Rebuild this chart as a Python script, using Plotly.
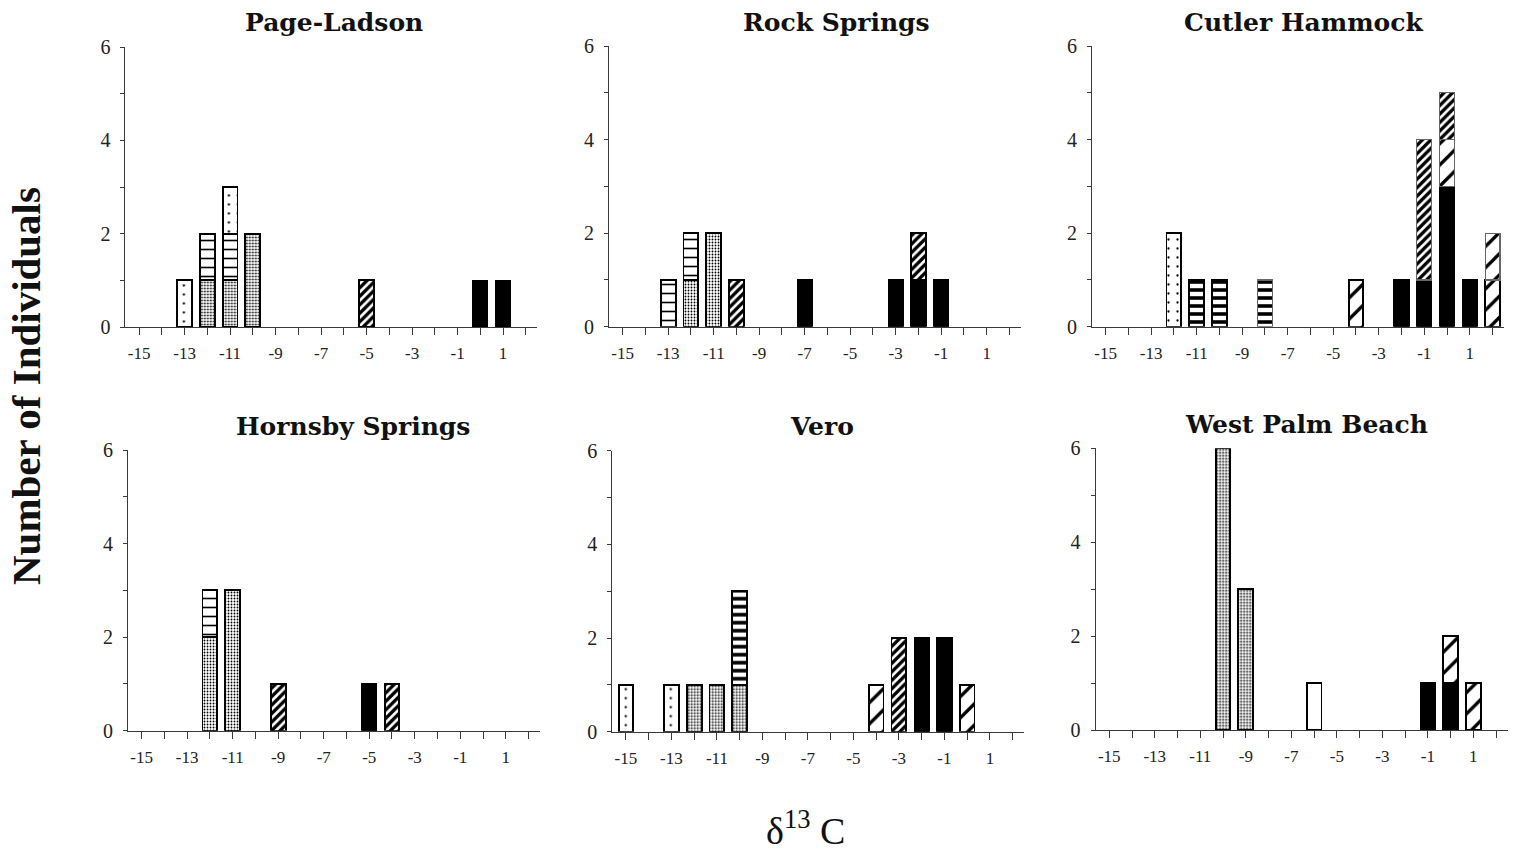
import plotly.graph_objects as go

W, H = 1515, 855

# ---------------- data: counts of individuals per delta-13C bin ----------------
PANEL_TITLES = ["Page-Ladson", "Rock Springs", "Cutler Hammock",
                "Hornsby Springs", "Vero", "West Palm Beach"]

# category -> (bins, counts)
PAGE_LADSON = {
    "black": ([0, 1], [1, 1]),
    "stipple": ([-12, -11, -10], [1, 1, 2]),
    "dense": ([-5], [1]),
    "horiz": ([-12, -11], [1, 1]),
    "sparse": ([-13, -11], [1, 1]),
}
ROCK_SPRINGS = {
    "black": ([-7, -3, -2, -1], [1, 1, 1, 1]),
    "stipple": ([-12, -11], [1, 2]),
    "dense": ([-10, -2], [1, 1]),
    "horiz": ([-13, -12], [1, 1]),
}
CUTLER_HAMMOCK = {
    "black": ([-2, -1, 0, 1], [1, 1, 3, 1]),
    "wide": ([-4, 2], [1, 1]),
    "wide_dotted": ([0, 2], [1, 1]),
    "dense_dotted": ([-1, 0], [3, 1]),
    "horiz_bold": ([-11, -10], [1, 1]),
    "horiz_bold_dotted": ([-8], [1]),
    "sparse": ([-12], [2]),
}
HORNSBY_SPRINGS = {
    "black": ([-5], [1]),
    "stipple": ([-12, -11], [2, 3]),
    "dense": ([-9, -4], [1, 1]),
    "horiz": ([-12], [1]),
}
VERO = {
    "black": ([-2, -1], [2, 2]),
    "stipple": ([-12, -11, -10], [1, 1, 1]),
    "wide": ([-4, 0], [1, 1]),
    "dense": ([-3], [2]),
    "horiz_bold": ([-10], [2]),
    "sparse": ([-15, -13], [1, 1]),
}
WEST_PALM_BEACH = {
    "black": ([-1, 0], [1, 1]),
    "stipple": ([-10, -9], [6, 3]),
    "wide": ([0, 1], [1, 1]),
    "empty": ([-6], [1]),
}

PANELS = [PAGE_LADSON, ROCK_SPRINGS, CUTLER_HAMMOCK,
          HORNSBY_SPRINGS, VERO, WEST_PALM_BEACH]

X_LABELED_TICKS = [-15, -13, -11, -9, -7, -5, -3, -1, 1]
X_MINOR_TICKS = [-14, -12, -10, -8, -6, -4, -2, 0, 2]
Y_LABELED_TICKS = [0, 2, 4, 6]
Y_MINOR_TICKS = [1, 3, 5]

# ---------------- styles ----------------
STACK_ORDER = ["black", "stipple", "wide", "wide_dotted", "dense", "dense_dotted",
               "horiz", "horiz_bold", "horiz_bold_dotted", "sparse", "empty"]


def pat(shape, size, solidity):
    return dict(shape=shape, size=size, solidity=solidity,
                fgcolor="black", bgcolor="white", fillmode="replace")


STYLES = {
    "black": dict(color="black", pattern=None, line="black", lw=1.5),
    "stipple": dict(color="white", pattern=pat(".", 3, 0.3), line="black", lw=1.9),
    "wide": dict(color="white", pattern=pat("/", 15, 0.22), line="black", lw=1.9),
    "wide_dotted": dict(color="white", pattern=pat("/", 15, 0.22), line="#666", lw=1.2),
    "dense": dict(color="white", pattern=pat("/", 6, 0.55), line="black", lw=1.9),
    "dense_dotted": dict(color="white", pattern=pat("/", 6, 0.55), line="#666", lw=1.2),
    "horiz": dict(color="white", pattern=pat("-", 9, 0.18), line="black", lw=1.9),
    "horiz_bold": dict(color="white", pattern=pat("-", 8, 0.45), line="black", lw=1.9),
    "horiz_bold_dotted": dict(color="white", pattern=pat("-", 8, 0.45), line="#666", lw=1.2),
    "sparse": dict(color="white", pattern=pat(".", 9, 0.05), line="black", lw=1.9),
    "empty": dict(color="white", pattern=None, line="black", lw=1.9),
}

# panel boxes in pixels: (left, right, top(y=6), bottom(y=0))
BOXES = [
    (125.4, 537.2, 47.0, 327.0),
    (609.0, 1020.8, 46.0, 326.7),
    (1092.0, 1503.9, 46.0, 326.7),
    (128.0, 539.9, 450.0, 730.7),
    (612.3, 1024.0, 450.7, 731.7),
    (1095.6, 1507.5, 448.3, 730.0),
]
TITLE_POS = [(334, 22), (836, 22), (1304, 22), (353, 426), (822, 426), (1306, 424)]

SERIF = "Liberation Serif"
AXIS_COLOR = "#3a3a3a"

fig = go.Figure()
layout = dict(
    width=W, height=H, autosize=False,
    margin=dict(l=0, r=0, t=0, b=0, pad=0, autoexpand=False),
    paper_bgcolor="white", plot_bgcolor="white",
    barmode="stack", showlegend=False,
)

annotations = []
for i, (panel, box, title, tpos) in enumerate(zip(PANELS, BOXES, PANEL_TITLES, TITLE_POS)):
    n = "" if i == 0 else str(i + 1)
    xa, ya = "x" + n, "y" + n
    for cat in STACK_ORDER:
        if cat not in panel:
            continue
        xs, ys = panel[cat]
        st = STYLES[cat]
        marker = dict(color=st["color"], line=dict(color=st["line"], width=st["lw"]))
        if st["pattern"] is not None:
            marker["pattern"] = st["pattern"]
        fig.add_trace(go.Bar(x=xs, y=ys, width=0.65, marker=marker,
                             xaxis=xa, yaxis=ya, hoverinfo="x+y"))
    l, r, t, b = box
    layout["xaxis" + n] = dict(
        domain=[l / W, r / W], anchor=ya, range=[-15.6, 2.5],
        tickmode="array", tickvals=X_LABELED_TICKS,
        ticktext=[str(v) for v in X_LABELED_TICKS],
        ticks="outside", ticklen=7, tickwidth=1, tickcolor=AXIS_COLOR,
        minor=dict(tickmode="array", tickvals=X_MINOR_TICKS, ticks="outside",
                   ticklen=7, tickwidth=1, tickcolor=AXIS_COLOR, showgrid=False),
        showline=True, linecolor=AXIS_COLOR, linewidth=1,
        showgrid=False, zeroline=False, ticklabelstandoff=4, automargin=False,
        tickfont=dict(family=SERIF, size=17, color="#222"),
    )
    layout["yaxis" + n] = dict(
        domain=[1 - b / H, 1 - t / H], anchor=xa, range=[0, 6],
        tickmode="array", tickvals=Y_LABELED_TICKS,
        ticktext=[str(v) for v in Y_LABELED_TICKS],
        ticks="outside", ticklen=4, tickwidth=1, tickcolor=AXIS_COLOR,
        minor=dict(tickmode="array", tickvals=Y_MINOR_TICKS, ticks="outside",
                   ticklen=4, tickwidth=1, tickcolor=AXIS_COLOR, showgrid=False),
        showline=True, linecolor=AXIS_COLOR, linewidth=1,
        showgrid=False, zeroline=False, ticklabelstandoff=6, automargin=False,
        tickfont=dict(family=SERIF, size=20, color="#222"),
    )
    annotations.append(dict(
        text=title, x=tpos[0] / W, y=1 - tpos[1] / H, xref="paper", yref="paper",
        xanchor="center", yanchor="middle", showarrow=False,
        font=dict(family="DejaVu Serif", size=25, color="#111", weight="bold"),
    ))

annotations.append(dict(
    text="Number of Individuals", x=26 / W, y=1 - 386 / H, xref="paper", yref="paper",
    xanchor="center", yanchor="middle", textangle=-90, showarrow=False,
    font=dict(family=SERIF, size=41, color="#111", weight="bold"),
))
annotations.append(dict(
    text="δ<sup>13</sup> C", x=805 / W, y=1 - 828 / H, xref="paper", yref="paper",
    xanchor="center", yanchor="middle", showarrow=False,
    font=dict(family=SERIF, size=38, color="#111"),
))
layout["annotations"] = annotations
fig.update_layout(**layout)

fig.write_html("out.html",
               config={"displayModeBar": False, "staticPlot": True},
               post_script="document.body.style.margin='0px';document.body.style.overflow='hidden';")
